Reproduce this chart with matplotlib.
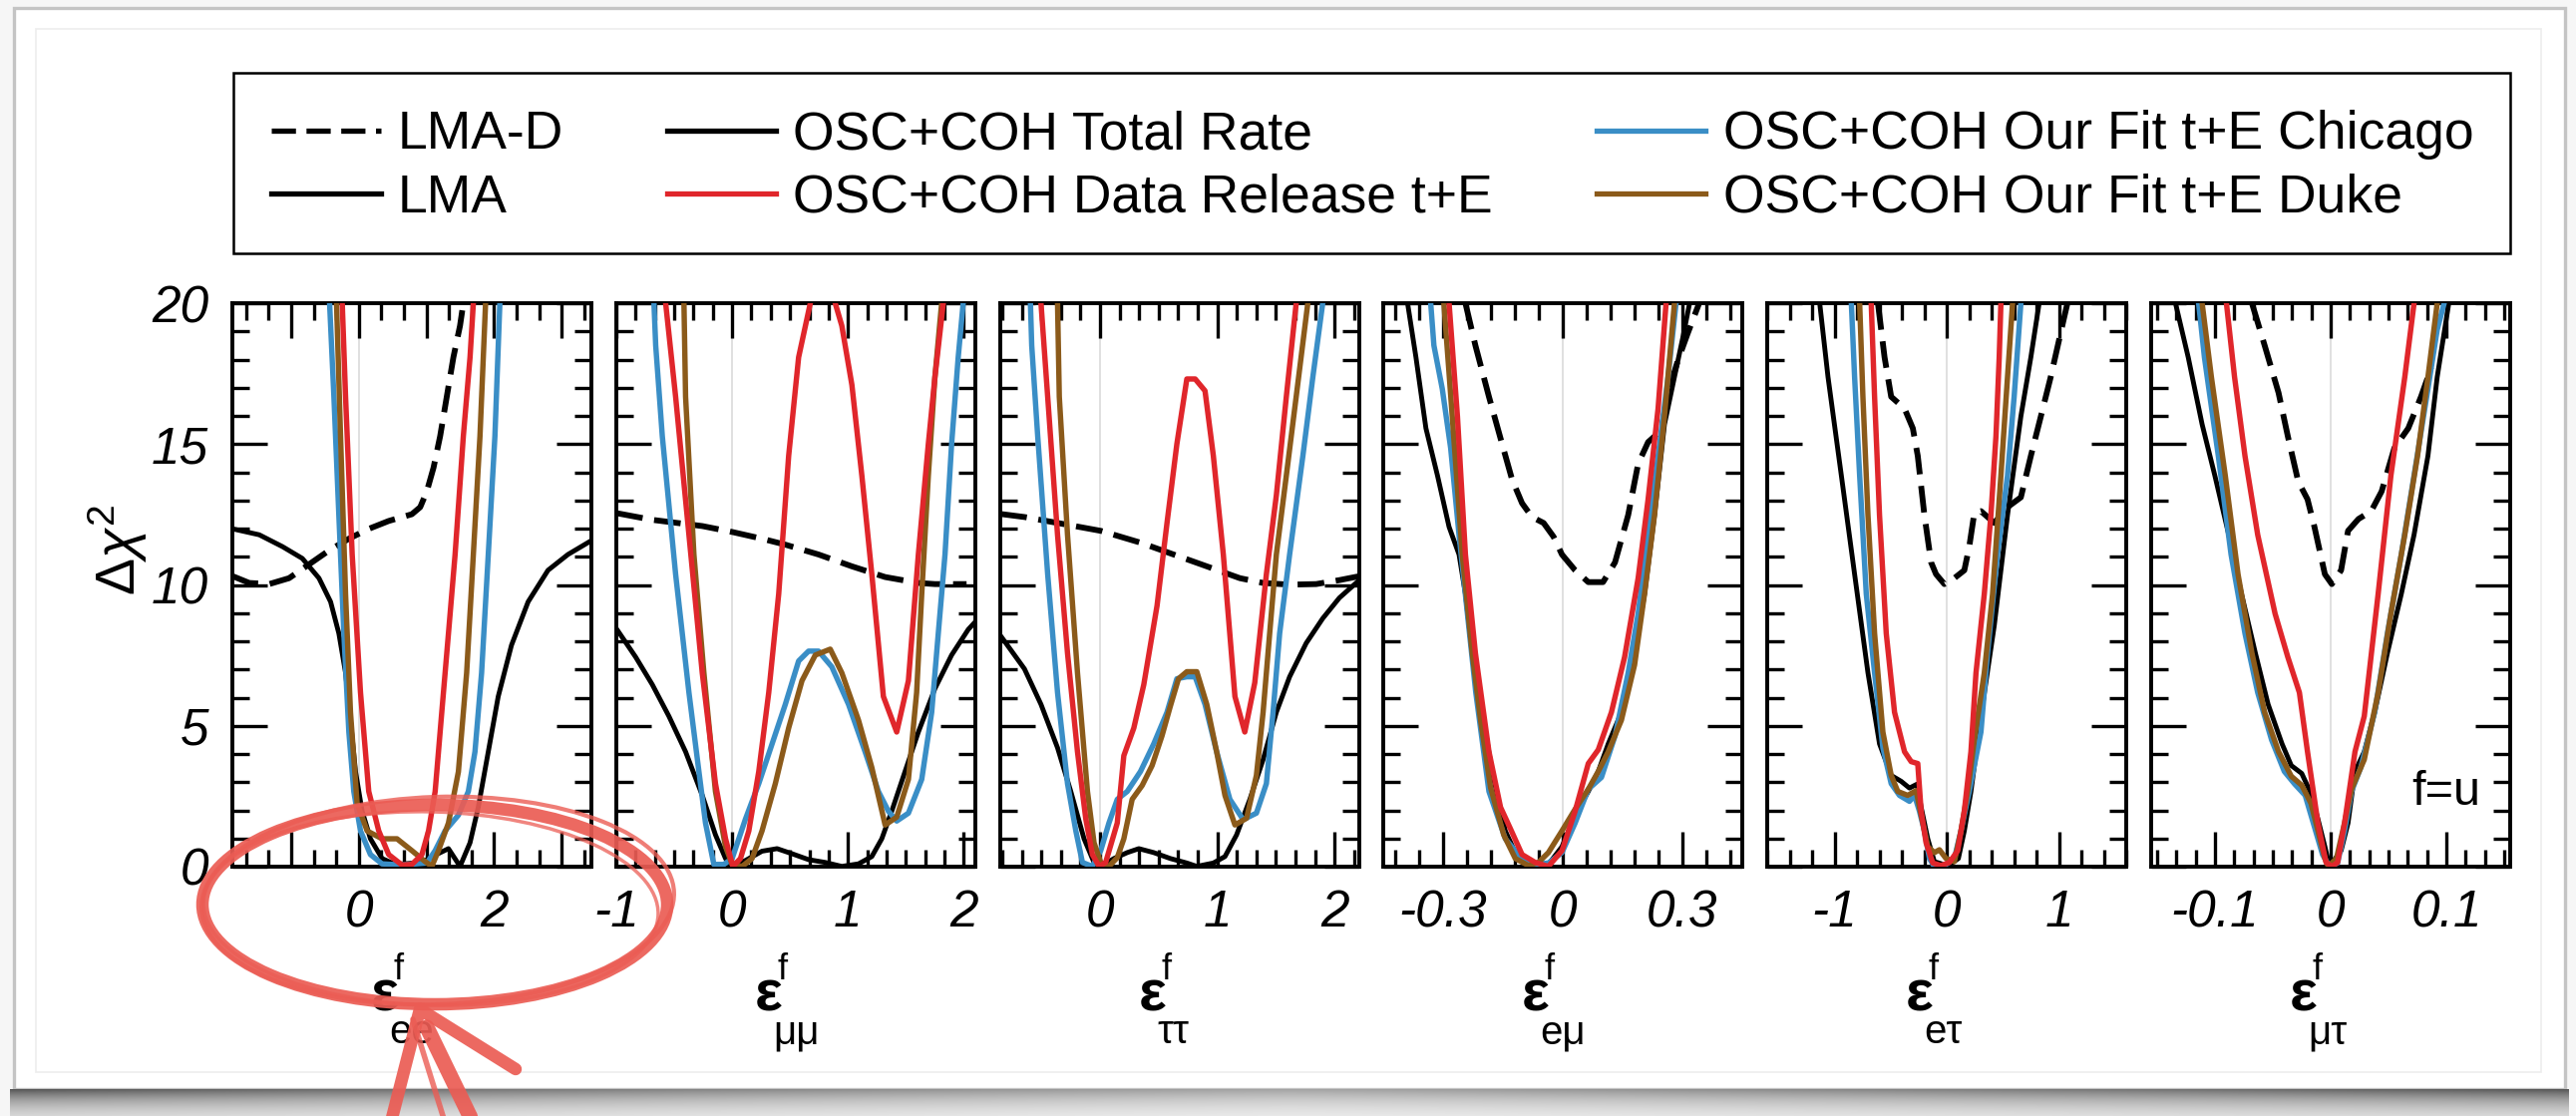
import numpy as np
import matplotlib
matplotlib.use("Agg")
import matplotlib.pyplot as plt
from matplotlib.lines import Line2D
from matplotlib.patches import Ellipse, Rectangle
from matplotlib.ticker import MultipleLocator

plt.rcParams["font.family"] = ["Liberation Sans", "DejaVu Sans"]
plt.rcParams["axes.unicode_minus"] = False
plt.rcParams["mathtext.fontset"] = "custom"
plt.rcParams["mathtext.rm"] = "Liberation Sans"
plt.rcParams["mathtext.it"] = "Liberation Sans:italic"
plt.rcParams["mathtext.bf"] = "Liberation Sans:bold"

# ---------------------------------------------------------------- data
# Delta chi^2 profiles versus each NSI coupling eps^f (f = u)
# lmad: LMA-D total rate, rate: LMA total rate,
# release / chicago / duke: LMA with timing+energy analyses

# eps_ee
ee_lmad_x = [-1.865, -1.62, -1.326, -1.031, -0.736, -0.442, -0.147, 0.147, 0.442, 0.785, 0.908, 1.006, 1.105, 1.203, 1.301, 1.399, 1.497, 1.546]
ee_lmad_y = [10.31, 10.07, 10.03, 10.24, 10.73, 11.22, 11.64, 11.99, 12.27, 12.51, 12.76, 13.32, 14.16, 15.28, 16.68, 18.08, 19.2, 20.0]
ee_rate_x = [-1.865, -1.473, -1.129, -0.835, -0.589, -0.417, -0.295, -0.196, -0.123, -0.049, 0.049, 0.172, 0.344, 0.54, 0.835, 0.982, 1.129, 1.326, 1.497, 1.645, 1.767, 1.915, 2.062, 2.258, 2.504, 2.798, 3.093, 3.437]
ee_rate_y = [11.99, 11.78, 11.36, 10.94, 10.24, 9.40, 8.28, 6.88, 5.20, 3.38, 1.97, 0.99, 0.29, 0.08, 0.13, 0.22, 0.41, 0.64, 0.01, 0.85, 2.11, 4.08, 6.04, 7.86, 9.40, 10.52, 11.08, 11.57]
ee_release_x = [-0.245, -0.196, -0.098, 0.025, 0.147, 0.295, 0.442, 0.638, 0.785, 0.933, 1.031, 1.129, 1.227, 1.326, 1.424, 1.546, 1.645, 1.694]
ee_release_y = [20.0, 16.68, 11.08, 6.18, 2.67, 1.27, 0.43, 0.06, 0.08, 0.43, 1.27, 2.67, 5.48, 8.28, 11.08, 15.28, 18.08, 20.0]
ee_chicago_x = [-0.432, -0.368, -0.295, -0.221, -0.147, -0.074, 0.025, 0.172, 0.344, 0.638, 1.006, 1.129, 1.276, 1.473, 1.62, 1.718, 1.816, 1.915, 2.013, 2.086]
ee_chicago_y = [20.0, 16.68, 12.48, 8.28, 4.78, 2.67, 1.27, 0.43, 0.10, 0.06, 0.13, 0.57, 1.27, 1.83, 2.67, 4.08, 6.88, 11.08, 15.28, 20.0]
ee_duke_x = [-0.329, -0.27, -0.196, -0.123, -0.025, 0.123, 0.344, 0.565, 0.785, 0.982, 1.08, 1.178, 1.326, 1.473, 1.595, 1.694, 1.792, 1.875]
ee_duke_y = [20.0, 15.28, 9.68, 5.48, 2.25, 1.27, 0.99, 0.99, 0.57, 0.18, 0.01, 0.57, 1.55, 3.37, 6.88, 11.08, 15.28, 20.0]

# eps_mumu
mm_lmad_x = [-1.0, -0.689, -0.258, 0.0, 0.258, 0.459, 0.746, 1.034, 1.321, 1.608, 1.751, 2.024]
mm_lmad_y = [12.55, 12.31, 12.09, 11.88, 11.64, 11.43, 11.08, 10.66, 10.28, 10.07, 10.03, 10.03]
mm_rate_x = [-1.0, -0.833, -0.689, -0.546, -0.402, -0.258, -0.144, -0.057, 0.006, 0.115, 0.258, 0.388, 0.517, 0.66, 0.804, 0.947, 1.091, 1.206, 1.292, 1.378, 1.493, 1.608, 1.751, 1.895, 2.039, 2.133]
mm_rate_y = [8.45, 7.44, 6.46, 5.34, 4.08, 2.53, 1.13, 0.29, 0.01, 0.22, 0.55, 0.64, 0.46, 0.25, 0.15, 0.01, 0.10, 0.36, 0.99, 1.97, 3.38, 4.78, 6.32, 7.51, 8.42, 8.84]
mm_release_x = [-0.574, -0.488, -0.373, -0.258, -0.144, -0.057, 0.006, 0.072, 0.144, 0.23, 0.316, 0.402, 0.488, 0.574, 0.675, 0.775, 0.89, 0.947, 1.034, 1.12, 1.206, 1.306, 1.421, 1.522, 1.608, 1.694, 1.751, 1.823]
mm_release_y = [20.0, 16.68, 11.78, 6.88, 2.95, 0.99, 0.01, 0.29, 1.27, 3.38, 6.18, 9.68, 14.58, 18.08, 20.0, 23.0, 20.0, 19.2, 17.1, 13.88, 10.38, 6.04, 4.78, 6.60, 11.08, 15.0, 17.38, 20.0]
mm_chicago_x = [-0.675, -0.66, -0.603, -0.488, -0.373, -0.287, -0.23, -0.158, -0.072, 0.0, 0.115, 0.23, 0.345, 0.459, 0.574, 0.66, 0.746, 0.861, 1.005, 1.148, 1.263, 1.349, 1.421, 1.522, 1.637, 1.723, 1.78, 1.838, 1.895, 1.952, 1.995]
mm_chicago_y = [20.0, 18.5, 15.28, 10.38, 6.18, 3.38, 1.55, 0.08, 0.08, 0.29, 1.69, 2.95, 4.36, 5.76, 7.30, 7.65, 7.65, 7.09, 5.76, 4.08, 2.67, 1.97, 1.62, 1.90, 3.10, 5.48, 8.28, 11.08, 15.0, 18.08, 20.0]
mm_duke_x = [-0.416, -0.402, -0.33, -0.244, -0.144, -0.057, 0.0, 0.086, 0.172, 0.258, 0.373, 0.488, 0.603, 0.718, 0.847, 0.947, 1.091, 1.206, 1.321, 1.421, 1.522, 1.593, 1.637, 1.694, 1.751, 1.809]
mm_duke_y = [20.0, 16.68, 11.08, 6.88, 2.67, 0.71, 0.08, 0.01, 0.29, 1.27, 2.95, 4.92, 6.60, 7.51, 7.72, 6.88, 5.20, 3.52, 1.48, 1.76, 3.10, 6.18, 9.68, 13.88, 17.38, 20.0]

# eps_tautau
tt_lmad_x = [-0.85, -0.644, -0.362, 0.006, 0.345, 0.627, 0.91, 1.192, 1.39, 1.616, 1.842, 2.04, 2.21]
tt_lmad_y = [12.52, 12.41, 12.20, 11.92, 11.5, 11.08, 10.66, 10.24, 10.07, 10.01, 10.03, 10.17, 10.31]
tt_rate_x = [-0.85, -0.644, -0.503, -0.362, -0.249, -0.136, -0.051, 0.006, 0.119, 0.232, 0.331, 0.458, 0.599, 0.74, 0.825, 0.966, 1.065, 1.164, 1.277, 1.39, 1.503, 1.616, 1.757, 1.898, 2.04, 2.21]
tt_rate_y = [8.21, 7.02, 5.76, 4.22, 2.67, 0.99, 0.15, 0.01, 0.29, 0.50, 0.64, 0.50, 0.29, 0.13, 0.01, 0.13, 0.36, 1.13, 2.39, 3.80, 5.48, 6.74, 7.93, 8.81, 9.54, 10.17]
tt_release_x = [-0.503, -0.446, -0.362, -0.277, -0.192, -0.121, -0.065, -0.008, 0.048, 0.147, 0.203, 0.288, 0.373, 0.486, 0.571, 0.655, 0.74, 0.811, 0.895, 0.966, 1.051, 1.15, 1.234, 1.319, 1.418, 1.503, 1.588, 1.672]
tt_release_y = [20.0, 16.68, 11.78, 7.58, 4.08, 1.69, 0.43, 0.01, 0.15, 1.55, 3.94, 4.92, 6.46, 9.26, 12.2, 15.0, 17.31, 17.31, 16.89, 14.58, 11.08, 6.04, 4.78, 6.53, 10.38, 13.18, 16.68, 20.0]
tt_chicago_x = [-0.593, -0.582, -0.531, -0.446, -0.362, -0.277, -0.206, -0.15, -0.065, 0.006, 0.076, 0.147, 0.232, 0.345, 0.458, 0.571, 0.655, 0.74, 0.811, 0.895, 0.994, 1.107, 1.22, 1.333, 1.418, 1.475, 1.531, 1.616, 1.729, 1.814, 1.898]
tt_chicago_y = [20.0, 18.5, 15.28, 10.38, 6.18, 2.95, 1.27, 0.15, 0.01, 0.57, 1.55, 2.39, 2.67, 3.38, 4.36, 5.48, 6.67, 6.74, 6.74, 5.76, 4.08, 2.39, 1.67, 1.90, 2.95, 5.48, 8.28, 11.08, 14.58, 17.38, 20.0]
tt_duke_x = [-0.362, -0.347, -0.277, -0.192, -0.107, -0.051, 0.006, 0.076, 0.147, 0.203, 0.274, 0.359, 0.444, 0.528, 0.599, 0.669, 0.74, 0.825, 0.91, 0.994, 1.065, 1.15, 1.249, 1.333, 1.39, 1.446, 1.503, 1.588, 1.672, 1.771]
tt_duke_y = [20.0, 16.68, 11.78, 6.88, 2.67, 0.85, 0.15, 0.01, 0.32, 0.99, 2.39, 2.88, 3.59, 4.64, 5.69, 6.67, 6.92, 6.92, 5.76, 4.08, 2.53, 1.48, 1.72, 3.24, 5.48, 8.28, 11.08, 13.88, 16.68, 20.0]

# eps_emu
em_lmad_x = [-0.244, -0.219, -0.185, -0.152, -0.127, -0.102, -0.077, -0.048, -0.023, -0.002, 0.031, 0.064, 0.101, 0.131, 0.164, 0.189, 0.214, 0.247, 0.264, 0.288, 0.313, 0.342]
em_lmad_y = [20.0, 18.5, 16.68, 15.0, 13.74, 12.9, 12.41, 12.2, 11.71, 11.08, 10.52, 10.1, 10.1, 10.8, 12.48, 14.3, 15.07, 15.49, 16.82, 17.94, 18.92, 20.0]
em_rate_x = [-0.389, -0.368, -0.343, -0.314, -0.285, -0.26, -0.244, -0.227, -0.202, -0.177, -0.144, -0.119, -0.098, -0.065, -0.036, -0.002, 0.031, 0.064, 0.089, 0.114, 0.147, 0.18, 0.205, 0.23, 0.255, 0.28, 0.301, 0.318]
em_rate_y = [20.0, 18.08, 15.56, 13.88, 12.06, 11.08, 9.68, 7.58, 5.48, 3.38, 1.27, 0.50, 0.22, 0.01, 0.08, 0.71, 1.83, 2.67, 3.38, 4.36, 5.48, 7.58, 9.68, 12.48, 15.7, 17.38, 18.78, 20.0]
em_release_x = [-0.285, -0.264, -0.244, -0.219, -0.185, -0.156, -0.131, -0.102, -0.069, -0.036, -0.002, 0.031, 0.064, 0.089, 0.122, 0.155, 0.189, 0.214, 0.239, 0.259]
em_release_y = [20.0, 15.98, 11.08, 7.58, 4.08, 2.11, 1.34, 0.43, 0.15, 0.01, 0.57, 1.97, 3.66, 4.15, 5.48, 7.44, 10.24, 13.04, 16.26, 20.0]
em_chicago_x = [-0.331, -0.323, -0.302, -0.281, -0.26, -0.239, -0.218, -0.185, -0.144, -0.102, -0.069, -0.036, -0.002, 0.031, 0.064, 0.097, 0.131, 0.164, 0.189, 0.214, 0.239, 0.264, 0.284]
em_chicago_y = [20.0, 18.5, 16.96, 14.86, 11.78, 8.98, 6.18, 2.67, 0.99, 0.27, 0.08, 0.13, 0.5, 1.55, 2.75, 3.17, 4.64, 6.88, 8.98, 11.78, 14.58, 17.38, 20.0]
em_duke_x = [-0.298, -0.277, -0.252, -0.227, -0.206, -0.181, -0.148, -0.119, -0.086, -0.061, -0.036, -0.002, 0.031, 0.064, 0.089, 0.114, 0.147, 0.18, 0.205, 0.23, 0.255, 0.28]
em_duke_y = [20.0, 15.98, 11.08, 7.58, 5.20, 2.81, 1.13, 0.29, 0.04, 0.15, 0.50, 1.27, 2.04, 2.75, 3.38, 4.08, 5.20, 7.16, 9.68, 12.48, 15.98, 20.0]

# eps_etau
et_lmad_x = [-0.613, -0.554, -0.495, -0.376, -0.302, -0.258, -0.199, -0.139, -0.095, -0.021, 0.068, 0.157, 0.201, 0.246, 0.305, 0.424, 0.542, 0.661, 0.75, 0.839, 0.927, 1.046, 1.076]
et_lmad_y = [20.0, 18.08, 16.68, 16.26, 15.56, 14.58, 12.48, 10.8, 10.38, 10.03, 10.24, 10.52, 11.36, 12.55, 12.62, 12.2, 12.76, 13.11, 14.58, 15.98, 17.38, 19.48, 20.0]
et_rate_x = [-1.132, -1.058, -0.939, -0.821, -0.702, -0.599, -0.495, -0.406, -0.332, -0.264, -0.228, -0.169, -0.11, -0.021, 0.053, 0.104, 0.157, 0.216, 0.305, 0.424, 0.542, 0.661, 0.75, 0.824]
et_rate_y = [20.0, 17.38, 13.88, 10.38, 6.88, 4.36, 3.24, 3.03, 2.79, 2.93, 2.11, 0.99, 0.18, 0.07, 0.15, 0.29, 1.27, 2.67, 5.34, 8.56, 12.48, 15.98, 18.08, 20.0]
et_release_x = [-0.673, -0.643, -0.599, -0.539, -0.465, -0.376, -0.317, -0.258, -0.228, -0.184, -0.124, -0.05, 0.024, 0.098, 0.157, 0.216, 0.261, 0.335, 0.394, 0.439, 0.468, 0.483]
et_release_y = [20.0, 16.68, 12.48, 8.28, 5.48, 4.08, 3.73, 3.66, 1.97, 0.85, 0.13, 0.04, 0.15, 0.57, 1.97, 4.08, 6.88, 9.68, 12.48, 15.28, 18.08, 20.0]
et_chicago_x = [-0.85, -0.821, -0.776, -0.717, -0.643, -0.569, -0.495, -0.421, -0.332, -0.287, -0.243, -0.199, -0.154, -0.11, -0.006, 0.068, 0.127, 0.201, 0.305, 0.364, 0.453, 0.542, 0.601, 0.661]
et_chicago_y = [20.0, 17.38, 13.88, 9.68, 6.88, 4.22, 2.95, 2.53, 2.32, 2.53, 1.97, 1.27, 0.29, 0.0, 0.08, 0.29, 1.27, 2.67, 4.78, 7.58, 11.08, 13.88, 16.68, 20.0]
et_duke_x = [-0.776, -0.747, -0.702, -0.643, -0.569, -0.495, -0.436, -0.347, -0.273, -0.228, -0.169, -0.11, -0.065, -0.006, 0.068, 0.127, 0.187, 0.246, 0.335, 0.409, 0.483, 0.542, 0.587]
et_duke_y = [20.0, 16.68, 12.48, 8.28, 4.78, 3.24, 2.67, 2.53, 2.70, 1.83, 0.71, 0.50, 0.6, 0.29, 0.18, 1.27, 2.67, 4.50, 6.88, 9.68, 13.88, 17.38, 20.0]

# eps_mutau
mt_lmad_x = [-0.068, -0.057, -0.045, -0.037, -0.028, -0.02, -0.014, -0.005, 0.001, 0.009, 0.015, 0.024, 0.035, 0.044, 0.055, 0.067, 0.078, 0.087]
mt_lmad_y = [20.0, 18.5, 16.82, 15.28, 13.67, 13.04, 12.06, 10.38, 10.03, 10.52, 11.92, 12.34, 12.62, 13.32, 14.86, 15.56, 16.68, 17.73]
mt_rate_x = [-0.134, -0.123, -0.111, -0.1, -0.088, -0.077, -0.065, -0.054, -0.042, -0.034, -0.025, -0.017, -0.011, -0.005, -0.001, 0.004, 0.009, 0.015, 0.021, 0.029, 0.038, 0.049, 0.061, 0.072, 0.084, 0.092, 0.102]
mt_rate_y = [20.0, 18.08, 15.7, 13.88, 11.78, 9.68, 7.58, 5.76, 4.36, 3.59, 3.31, 2.6, 1.69, 0.71, 0.01, 0.29, 0.57, 1.55, 3.38, 4.08, 5.48, 7.58, 9.68, 11.78, 14.58, 17.38, 20.0]
mt_release_x = [-0.09, -0.083, -0.074, -0.063, -0.048, -0.037, -0.027, -0.02, -0.011, -0.004, 0.001, 0.006, 0.012, 0.021, 0.029, 0.041, 0.052, 0.064, 0.072]
mt_release_y = [20.0, 17.38, 14.58, 11.78, 8.98, 7.44, 6.18, 4.08, 1.55, 0.15, 0.01, 0.15, 1.55, 4.08, 5.34, 9.68, 13.88, 17.38, 20.0]
mt_chicago_x = [-0.114, -0.109, -0.097, -0.086, -0.074, -0.063, -0.051, -0.04, -0.031, -0.022, -0.014, -0.007, -0.001, 0.006, 0.012, 0.018, 0.026, 0.038, 0.049, 0.061, 0.072, 0.084, 0.092, 0.098]
mt_chicago_y = [20.0, 18.08, 14.58, 11.08, 8.28, 6.18, 4.5, 3.38, 2.93, 2.53, 1.41, 0.43, 0.01, 0.13, 1.27, 2.67, 3.52, 5.48, 8.28, 11.08, 13.88, 16.96, 19.06, 20.0]
mt_duke_x = [-0.111, -0.103, -0.091, -0.08, -0.068, -0.057, -0.045, -0.034, -0.025, -0.017, -0.011, -0.005, -0.002, 0.005, 0.012, 0.018, 0.029, 0.041, 0.052, 0.064, 0.075, 0.084, 0.092]
mt_duke_y = [20.0, 17.38, 13.88, 10.38, 7.58, 5.48, 4.08, 3.21, 2.89, 2.25, 1.27, 0.29, 0.01, 0.29, 1.55, 2.75, 3.80, 6.18, 8.98, 11.78, 14.58, 17.38, 20.0]

# panel labels, axis ranges and tick labels
panel_keys = ["ee", "mm", "tt", "em", "et", "mt"]
panel_subscripts = ["ee", "μμ", "ττ", "eμ", "eτ", "μτ"]
x_ranges = [(-1.87, 3.44), (-1.0, 2.1), (-0.85, 2.21), (-0.45, 0.45), (-1.6, 1.6), (-0.155, 0.155)]
x_ticks = [[-1, 0, 1, 2, 3], [-1, 0, 1, 2], [0, 1, 2], [-0.3, 0, 0.3], [-1, 0, 1], [-0.1, 0, 0.1]]
x_ticklabels = [["", "0", "", "2", ""], ["-1", "0", "1", "2"], ["0", "1", "2"],
                ["-0.3", "0", "0.3"], ["-1", "0", "1"], ["-0.1", "0", "0.1"]]
x_minor = [1 / 3, 1 / 6, 1 / 6, 0.06, 0.2, 0.1 / 6]
y_ticks = [0, 5, 10, 15, 20]
y_ticklabels = ["0", "5", "10", "15", "20"]

series_names = ["LMA-D", "LMA", "OSC+COH Total Rate", "OSC+COH Data Release t+E",
                "OSC+COH Our Fit t+E Chicago", "OSC+COH Our Fit t+E Duke"]

C_BLUE = "#3a8ec6"
C_RED = "#e0262b"
C_BROWN = "#8b5a1a"
DASH = (0, (4.6, 2.0))

# ---------------------------------------------------------------- figure
W, H = 2583, 1119
fig = plt.figure(figsize=(W / 100, H / 100), dpi=100, facecolor="#f6f6f6")

# card background with a soft drop shadow underneath
bg = fig.add_axes([0, 0, 1, 1], zorder=-10)
bg.set_xlim(0, W)
bg.set_ylim(H, 0)
bg.axis("off")
bg.add_patch(Rectangle((14, 8), 2558, 1084, facecolor="white", edgecolor="#c4c4c4", lw=2.4))
bg.add_patch(Rectangle((36, 29), 2512, 1046, fill=False, edgecolor="#ededed", lw=1.2))
gy = np.linspace(0, 1, 30)[:, None]
gx = np.linspace(0, 1, 400)[None, :]
edge = np.abs(gx - 0.5) * 2
dark = (0.36 + 0.30 * edge ** 1.2) * np.exp(-gy * 1.4)
shade = np.clip(1 - dark, 0, 1)
bg.imshow(np.dstack([shade, shade, shade]), extent=(10, 2576, H, 1092), aspect="auto",
          interpolation="bilinear", zorder=1)

lefts = [233, 618, 1003, 1387, 1772, 2157]
ax_w, ax_h, ax_bottom = 360, 565, 869

for i, key in enumerate(panel_keys):
    ax = fig.add_axes([lefts[i] / W, (H - ax_bottom) / H, ax_w / W, ax_h / H])
    g = globals()
    ax.axvline(0, color="#e0e0e0", lw=1.4, zorder=0.5)
    ax.plot(g[key + "_lmad_x"], g[key + "_lmad_y"], color="black", lw=4.2, ls=DASH, zorder=2)
    ax.plot(g[key + "_rate_x"], g[key + "_rate_y"], color="black", lw=3.5, zorder=2.1)
    ax.plot(g[key + "_chicago_x"], g[key + "_chicago_y"], color=C_BLUE, lw=3.9, zorder=3)
    ax.plot(g[key + "_duke_x"], g[key + "_duke_y"], color=C_BROWN, lw=3.9, zorder=3.1)
    ax.plot(g[key + "_release_x"], g[key + "_release_y"], color=C_RED, lw=3.9, zorder=3.2)

    ax.set_xlim(*x_ranges[i])
    ax.set_ylim(0, 20)
    ax.set_xticks(x_ticks[i], x_ticklabels[i], fontsize=37, fontstyle="italic")
    ax.xaxis.set_minor_locator(MultipleLocator(x_minor[i]))
    ax.yaxis.set_minor_locator(MultipleLocator(1))
    if i == 0:
        ax.set_yticks(y_ticks, y_ticklabels, fontsize=37, fontstyle="italic")
        ax.text(-0.32, 0.563, r"$\mathit{\Delta\chi}^{2}$", transform=ax.transAxes,
                rotation=90, fontsize=40, ha="center", va="center")
    else:
        ax.set_yticks(y_ticks)
        ax.tick_params(labelleft=False)
    ax.tick_params(which="both", direction="in", top=True, right=True, width=2.4)
    ax.tick_params(which="major", length=25)
    ax.tick_params(which="minor", length=12.5)
    ax.tick_params(axis="x", pad=16)
    ax.tick_params(axis="y", pad=17)
    for sp in ax.spines.values():
        sp.set_linewidth(2.8)

    # axis label eps^f_xx, drawn as symbol with stacked super/subscript
    ax.text(0.5 - 0.075, -0.255, "ε", transform=ax.transAxes, fontsize=42,
            fontweight="bold", ha="center", va="baseline")
    ax.text(0.5 - 0.036, -0.2, "f", transform=ax.transAxes, fontsize=26,
            ha="center", va="baseline")
    ax.text(0.5 - 0.062, -0.314, panel_subscripts[i], transform=ax.transAxes, fontsize=29,
            ha="left", va="baseline")
    if key == "mt":
        ax.text(0.1, 2.65, "f=u", fontsize=35, ha="center", va="center")

# legend in a framed box above the panels
handles = [
    Line2D([], [], color="black", lw=3.8, ls=DASH),
    Line2D([], [], color="black", lw=3.8),
    Line2D([], [], color="black", lw=3.8),
    Line2D([], [], color=C_RED, lw=3.8),
    Line2D([], [], color=C_BLUE, lw=3.8),
    Line2D([], [], color=C_BROWN, lw=3.8),
]
fig.legend(handles, series_names, ncol=3, loc="center left",
           bbox_to_anchor=(272 / W, 1 - 167 / H), frameon=False, fontsize=38.5,
           borderpad=0, borderaxespad=0, handlelength=2.05, handletextpad=0.32,
           columnspacing=1.94, labelspacing=0.25)
fig.add_artist(Rectangle((234 / W, 1 - 254 / H), 2283 / W, 181 / H, transform=fig.transFigure,
                         fill=False, edgecolor="black", lw=1.8))

# hand-drawn highlight ring and arrow
ov = fig.add_axes([0, 0, 1, 1], zorder=20)
ov.set_xlim(0, W)
ov.set_ylim(H, 0)
ov.axis("off")
ov.patch.set_visible(False)
ring = "#eb5c54"
for (cx, cy, ew, eh, ang, lw, al) in [(436, 907, 466, 200, 0, 9.0, 0.92),
                                      (439, 903, 474, 208, -2.0, 3.0, 0.8),
                                      (432, 911, 456, 194, 1.5, 2.5, 0.75)]:
    ov.add_patch(Ellipse((cx, cy), ew, eh, angle=ang, fill=False, edgecolor=ring, lw=lw, alpha=al))
ov.plot([392, 421, 517], [1125, 1012, 1072], color=ring, lw=9, alpha=0.92,
        solid_capstyle="round", solid_joinstyle="round")
ov.plot([428, 474], [1030, 1125], color=ring, lw=11, alpha=0.92, solid_capstyle="round")
ov.plot([414, 446], [1022, 1125], color=ring, lw=4, alpha=0.8, solid_capstyle="round")

fig.savefig("out.png", dpi=100, facecolor=fig.get_facecolor())
